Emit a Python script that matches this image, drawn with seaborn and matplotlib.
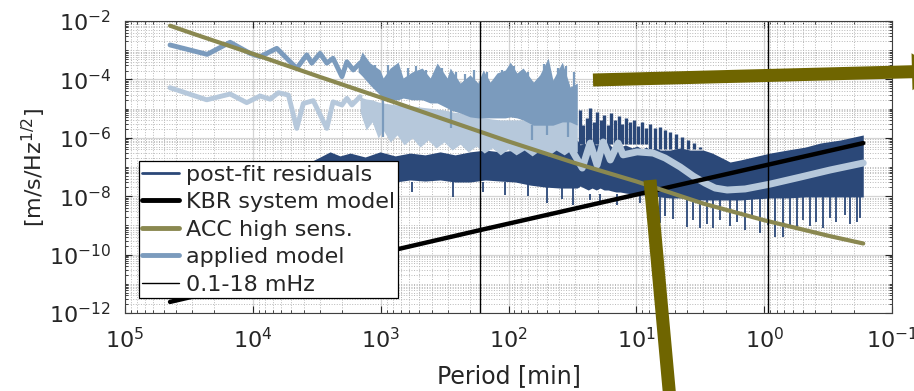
import matplotlib
matplotlib.use('Agg')
import matplotlib.pyplot as plt
import matplotlib.ticker as mticker
from matplotlib.lines import Line2D
from matplotlib.patches import FancyArrow
import seaborn as sns
import numpy as np

# periods in minutes, amplitude spectral densities in m/s/Hz^1/2

# ACC high sensitivity noise model
acc_period = [44460, 30000, 10000, 3000, 1000, 300, 100, 30, 10, 3, 1, 0.3, 0.168]
acc_asd = [6.9e-3, 3.8e-3, 7.5e-4, 1.22e-4, 2.4e-5, 3.9e-6, 7.5e-7, 1.35e-7, 3.2e-8, 5.6e-9, 1.5e-9, 4.2e-10, 2.4e-10]

# KBR system model
kbr_period = [44460, 167, 0.168]
kbr_asd = [2.4e-12, 6.9e-10, 6.6e-7]

# applied model (upper curve), resolved low-frequency part
app_period = [44460, 22800, 15070, 10520, 8790, 6500, 5600, 4540, 3790, 3460, 2980, 2640, 2360, 2010, 1840, 1640, 1450]
app_asd = [1.51e-3, 7.2e-4, 1.87e-3, 7.8e-4, 6.0e-4, 1.16e-3, 6.0e-4, 2.4e-4, 6.9e-4, 3.6e-4, 7.8e-4, 3.6e-4, 5.3e-4,
           1.24e-4, 4.0e-4, 2.1e-4, 3.65e-4]
# applied model (upper curve), dense part as envelope
app_band_period = [1503, 1398, 1211, 1012, 957, 843, 731, 668, 568, 474, 410, 362, 302, 286, 239, 200, 173, 158, 139, 123,
                   106, 97, 86, 77, 64, 57, 49, 45, 38, 33, 29]
app_band_top = [3.65e-4, 8.7e-4, 3.65e-4, 2.1e-4, 1.12e-4, 2.45e-4, 3.9e-4, 1.12e-4, 1.8e-4, 2.45e-4, 1.12e-4, 3.65e-4,
                1.12e-4, 2.45e-4, 7.5e-5, 1.42e-4, 7.5e-5, 2.1e-4, 8.1e-5, 1.66e-4, 2.1e-4, 3.9e-4, 1.66e-4, 2.45e-4,
                8.1e-5, 1.42e-4, 5.4e-4, 9.5e-5, 3.9e-4, 5.5e-5, 7.5e-5]
app_band_bottom = [1.8e-4, 1.31e-4, 6.4e-5, 2.9e-5, 2.0e-5, 2.0e-5, 2.0e-5, 2.3e-5, 2.0e-5, 2.0e-5, 1.56e-5, 1.56e-5,
                   1.05e-5, 9.0e-6, 7.1e-6, 5.2e-6, 4.8e-6, 4.8e-6, 4.8e-6, 4.8e-6, 4.8e-6, 5.2e-6, 4.8e-6, 4.1e-6,
                   2.7e-6, 2.7e-6, 2.7e-6, 2.7e-6, 3.5e-6, 3.5e-6, 2.7e-6]
# single bins sticking out of the applied-model band
app_spike_period = [957, 280, 66, 50, 34,
                    1300, 1107, 875, 611, 528, 442, 331, 257, 219, 186, 147, 112, 90.4, 70.3, 52.6, 40.9, 35.4, 30.7]
app_spike_low = [1.06e-6, 2.2e-6, 8.4e-7, 1.25e-6, 1.06e-6,
                 1.1e-4, 1.0e-4, 5e-5, 5e-5, 5e-5, 5e-5, 5e-5, 5e-5, 5e-5, 5e-5, 5e-5, 5e-5, 5e-5, 5e-5, 5e-5, 5e-5,
                 5e-5, 5e-5]
app_spike_high = [2.0e-5, 9.0e-6, 2.7e-6, 2.7e-6, 3.5e-6,
                  4.6e-4, 3.1e-4, 3.1e-4, 2.45e-4, 2.9e-4, 2.1e-4, 2.45e-4, 1.8e-4, 1.53e-4, 2.1e-4, 1.8e-4, 2.1e-4,
                  2.9e-4, 1.8e-4, 3.4e-4, 2.45e-4, 2.9e-4, 1.8e-4]

# applied model (lower, light curve)
low_period = [44460, 22960, 15070, 11170, 8790, 7330, 6310, 5270, 4540, 4030, 3370, 2640, 2360, 2010, 1840, 1680, 1450]
low_asd = [5.2e-5, 2.0e-5, 3.16e-5, 1.6e-5, 2.7e-5, 2.1e-5, 3.5e-5, 2.9e-5, 2.1e-6, 1.5e-5, 1.87e-5, 2.1e-6, 1.7e-5,
           1.33e-5, 2.25e-5, 1.33e-5, 2.56e-5]
low_band_period = [1450, 1300, 1167, 1047, 957, 843, 745, 656, 568, 492, 426, 369, 319, 276, 239, 207, 179, 155, 134,
                   116, 101, 87.3, 75.5, 65.4, 56.6, 49.0, 42.5, 36.7, 32.4, 29.0]
low_band_top = [2.5e-5, 2.13e-5, 2.0e-5, 1.68e-5, 1.56e-5, 1.44e-5, 1.33e-5, 1.33e-5, 1.23e-5, 1.13e-5, 1.05e-5,
                9.7e-6, 9.0e-6, 7.7e-6, 7.1e-6, 6.0e-6, 5.2e-6, 4.8e-6, 4.4e-6, 4.1e-6, 4.1e-6, 4.1e-6, 4.1e-6,
                4.1e-6, 4.1e-6, 4.1e-6, 4.1e-6, 4.1e-6, 4.1e-6, 2.7e-6]
low_band_bottom = [7.7e-6, 1.85e-6, 3.5e-6, 9.8e-7, 1.85e-6, 7.2e-7, 1.25e-6, 5.7e-7, 9.8e-7, 4.8e-7, 8.4e-7, 4.5e-7,
                   7.2e-7, 3.8e-7, 6.1e-7, 3.3e-7, 5.2e-7, 3.0e-7, 4.5e-7, 2.6e-7, 4.1e-7, 2.6e-7, 3.8e-7, 2.4e-7,
                   3.8e-7, 2.4e-7, 3.8e-7, 2.6e-7, 3.8e-7, 3.3e-7]
low_tail_period = [33.0, 26.5, 23.0, 20.3, 18.2, 16.0, 13.9, 12.7, 9.87, 7.39, 5.96, 4.54, 3.60, 2.90, 2.42, 1.95, 1.41,
                   0.898, 0.523, 0.305, 0.168]
low_tail_asd = [4.8e-7, 9.2e-8, 6.6e-7, 1.17e-7, 7.2e-7, 1.74e-7, 6.6e-7, 2.6e-7, 3.3e-7, 3.0e-7, 2.03e-7, 1.0e-7,
                4.9e-8, 2.8e-8, 1.9e-8, 1.63e-8, 1.77e-8, 2.6e-8, 4.5e-8, 7.9e-8, 1.37e-7]

# post-fit residuals, envelope of the dense spectrum
res_period = [3565, 2980, 2490, 2080, 1735, 1324, 1012, 771, 589, 450, 343, 262, 200, 152, 116, 88.7, 67.8, 51.8, 39.5,
              29.0, 27.5, 25.6, 23.8, 22.2, 20.6, 19.2, 17.9, 16.6, 15.5, 14.4, 13.4, 12.2, 10.8, 9.87, 9.02, 8.38,
              7.80, 7.13, 6.51, 5.45, 4.54, 3.79, 3.00, 2.55, 2.21, 1.85, 1.54, 1.22, 0.898, 0.661, 0.478, 0.365,
              0.254, 0.168]
res_top = [1.48e-7, 2.2e-7, 3.3e-7, 2.4e-7, 3.0e-7, 2.2e-7, 3.3e-7, 2.4e-7, 3.0e-7, 2.6e-7, 3.3e-7, 2.6e-7, 3.3e-7,
           3.8e-7, 3.3e-7, 3.8e-7, 4.5e-7, 3.8e-7, 5.2e-7, 8.4e-7, 5.7e-7, 6.6e-7, 5.2e-7, 7.2e-7, 5.7e-7, 6.6e-7,
           5.2e-7, 6.6e-7, 4.8e-7, 6.1e-7, 4.8e-7, 5.7e-7, 4.5e-7, 5.2e-7, 4.1e-7, 4.8e-7, 3.8e-7, 4.5e-7, 3.8e-7,
           3.8e-7, 4.5e-7, 3.8e-7, 3.8e-7, 3.0e-7, 2.2e-7, 1.48e-7, 1.74e-7, 2.2e-7, 3.0e-7, 3.8e-7, 4.8e-7,
           6.6e-7, 8.4e-7, 1.25e-6]
res_bottom = [2.4e-8, 2.23e-8, 2.8e-8, 3.3e-8, 3.6e-8, 3.9e-8, 3.6e-8, 3.06e-8, 3.6e-8, 3.3e-8, 3.6e-8, 3.06e-8,
              3.06e-8, 3.6e-8, 3.3e-8, 3.06e-8, 2.4e-8, 2.06e-8, 1.9e-8, 1.9e-8, 2.23e-8, 1.9e-8, 1.63e-8, 1.9e-8,
              1.63e-8, 1.9e-8, 1.63e-8, 1.63e-8, 1.5e-8, 1.39e-8, 1.39e-8, 1.29e-8, 1.19e-8, 1.19e-8, 1.1e-8,
              1.1e-8, 1.02e-8, 1.02e-8, 9.4e-9, 8.7e-9, 8.7e-9, 8.0e-9, 7.4e-9, 7.4e-9, 7.4e-9, 7.4e-9, 7.4e-9,
              8.0e-9, 8.7e-9, 8.7e-9, 9.4e-9, 9.4e-9, 9.4e-9, 9.4e-9]
# downward excursions of the residuals
res_spike_period = [2830, 1900, 1398, 757, 568, 271, 158, 106, 70.3, 49.9, 38.1, 31.3,
                    23.0, 19.2, 14.1, 9.34, 6.51, 5.96, 5.15, 4.00, 3.60, 3.17, 2.79, 2.51, 2.21, 1.85, 1.63, 1.41,
                    1.24, 1.07, 0.93, 0.82, 0.71, 0.627, 0.552, 0.495, 0.436, 0.392, 0.345, 0.305, 0.273, 0.232,
                    0.212, 0.187, 0.177]
res_spike_low = [1.1e-8, 7.4e-9, 1.29e-8, 9.4e-9, 1.39e-8, 9.4e-9, 1.39e-8, 1.1e-8, 1.02e-8, 5.9e-9, 8.0e-9, 5.0e-9,
                 7.4e-9, 5.9e-9, 5.0e-9, 5.9e-9, 1.21e-9, 2.1e-9, 1.66e-9, 8.8e-10, 1.53e-9, 8.1e-10, 1.12e-9,
                 8.1e-10, 1.53e-9, 9.5e-10, 1.3e-9, 7.0e-10, 1.79e-9, 5.5e-10, 1.03e-9, 4.0e-10, 4.0e-10, 8.1e-10,
                 7.0e-10, 1.53e-9, 9.5e-10, 1.3e-9, 8.1e-10, 1.79e-9, 1.3e-9, 2.27e-9, 1.12e-9, 1.3e-9, 1.79e-9]
res_spike_high = [3.0e-8] * 12 + [1.2e-8] * 33
# upward comb of the residuals between 30 and 3 min
res_comb_period = [27.5, 26.1, 24.3, 23.0, 21.4, 20.3, 18.8, 17.9, 16.6, 15.7, 14.6, 13.6, 12.9, 12.0, 11.2, 10.4, 9.68,
                   9.02, 8.38, 7.80, 7.13, 6.51, 5.96, 5.45, 4.89, 4.38, 3.94, 3.53, 3.17]
res_comb_high = [9.0e-6, 2.7e-6, 4.8e-6, 1.05e-5, 3.5e-6, 7.7e-6, 4.1e-6, 6.0e-6, 2.7e-6, 7.1e-6, 4.1e-6, 5.6e-6,
                 3.0e-6, 4.8e-6, 3.5e-6, 4.1e-6, 2.5e-6, 3.5e-6, 2.2e-6, 3.0e-6, 2.2e-6, 2.35e-6, 1.85e-6, 1.58e-6,
                 1.35e-6, 1.06e-6, 8.4e-7, 6.6e-7, 4.8e-7]
res_comb_low = [6e-7] * 19 + [4e-7] * 10

# 0.1 mHz and 18 mHz band limits
band_period = [166.7, 0.926]

labels = ['post-fit residuals', 'KBR system model', 'ACC high sens.', 'applied model', '0.1-18 mHz']

NAVY = '#2b4878'
MEDIUM = '#7b9bbd'
LIGHT = '#b6c8db'
OLIVE = '#8a8850'
ARROW = '#6f6500'
GREY = '#262626'

sns.set_style('ticks')
plt.rcParams['font.family'] = ['DejaVu Sans']

fig = plt.figure(figsize=(9.14, 3.91), dpi=100)
ax = fig.add_axes([0.1368, 0.1995, 0.8392, 0.7468])
ax.set_xscale('log')
ax.set_yscale('log')

# post-fit residuals
ax.fill_between(res_period, res_bottom, res_top, color=NAVY, lw=0)
ax.vlines(res_spike_period, res_spike_low, res_spike_high, color=NAVY, lw=1.3)
ax.vlines(res_comb_period, res_comb_low, res_comb_high, color=NAVY, lw=2.4)

# applied model, light curve
sns.lineplot(x=low_period, y=low_asd, ax=ax, color=LIGHT, lw=3.5, estimator=None, sort=False)
ax.fill_between(low_band_period, low_band_bottom, low_band_top, color=LIGHT, lw=0)
sns.lineplot(x=low_tail_period, y=low_tail_asd, ax=ax, color=LIGHT, lw=5, estimator=None, sort=False)

# applied model, upper curve
sns.lineplot(x=app_period, y=app_asd, ax=ax, color=MEDIUM, lw=3.5, estimator=None, sort=False)
ax.fill_between(app_band_period, app_band_bottom, app_band_top, color=MEDIUM, lw=0)
ax.vlines(app_spike_period, app_spike_low, app_spike_high, color=MEDIUM, lw=1.6)

sns.lineplot(x=kbr_period, y=kbr_asd, ax=ax, color='black', lw=3.2, estimator=None, sort=False)
sns.lineplot(x=acc_period, y=acc_asd, ax=ax, color=OLIVE, lw=3, estimator=None, sort=False)
for p in band_period:
    ax.axvline(p, color='black', lw=1)

ax.set_xlim(1e5, 1e-1)
ax.set_ylim(1e-12, 1e-2)
ax.set_xticks([1e5, 1e4, 1e3, 1e2, 1e1, 1e0, 1e-1])
ax.set_yticks([1e-12, 1e-10, 1e-8, 1e-6, 1e-4, 1e-2])
ax.xaxis.set_minor_locator(mticker.LogLocator(base=10, subs=np.arange(2, 10), numticks=100))
ax.yaxis.set_minor_locator(mticker.LogLocator(base=10, subs=np.arange(1, 10), numticks=100))
ax.xaxis.set_minor_formatter(mticker.NullFormatter())
ax.yaxis.set_minor_formatter(mticker.NullFormatter())

ax.grid(True, which='major', color='#d4d4d4', lw=0.9)
ax.grid(True, which='minor', color='#b8b8b8', ls=':', lw=0.7)
ax.set_axisbelow(True)
ax.tick_params(which='both', direction='in', top=True, right=True, colors=GREY, labelsize=16)
ax.tick_params(which='major', length=5, width=0.8, pad=10)
ax.tick_params(which='minor', length=2.5, width=0.6)
for s in ax.spines.values():
    s.set_color('#404040')
    s.set_linewidth(0.8)

ax.set_xlabel('Period [min]', fontsize=17, color=GREY, labelpad=9)
ax.set_ylabel('[m/s/Hz$^{1/2}$]', fontsize=16, color=GREY, labelpad=1)

handles = [Line2D([], [], color=NAVY, lw=2),
           Line2D([], [], color='black', lw=3.5),
           Line2D([], [], color=OLIVE, lw=3.5),
           Line2D([], [], color=MEDIUM, lw=3.5),
           Line2D([], [], color='black', lw=1)]
leg = ax.legend(handles, labels, loc='lower left', bbox_to_anchor=(0.0183, 0.051), borderaxespad=0,
                fontsize=16, frameon=True, fancybox=False, framealpha=1, edgecolor='black',
                handlelength=1.65, handletextpad=0.3, labelspacing=0.34, borderpad=0.15)
leg.get_frame().set_linewidth(0.9)
for t in leg.get_texts():
    t.set_color(GREY)

# big olive pointers running off the axes
fig.add_artist(FancyArrow(5.93, 3.11, 3.47, 0.09, width=0.13, head_width=0.37, head_length=0.28,
                          length_includes_head=True, color=ARROW, lw=0, transform=fig.dpi_scale_trans,
                          clip_on=False))
fig.add_artist(Line2D([6.50, 6.70], [2.11, -0.09], lw=9.4, color=ARROW, solid_capstyle='butt',
                      transform=fig.dpi_scale_trans))

fig.savefig('out.png', dpi=100)
